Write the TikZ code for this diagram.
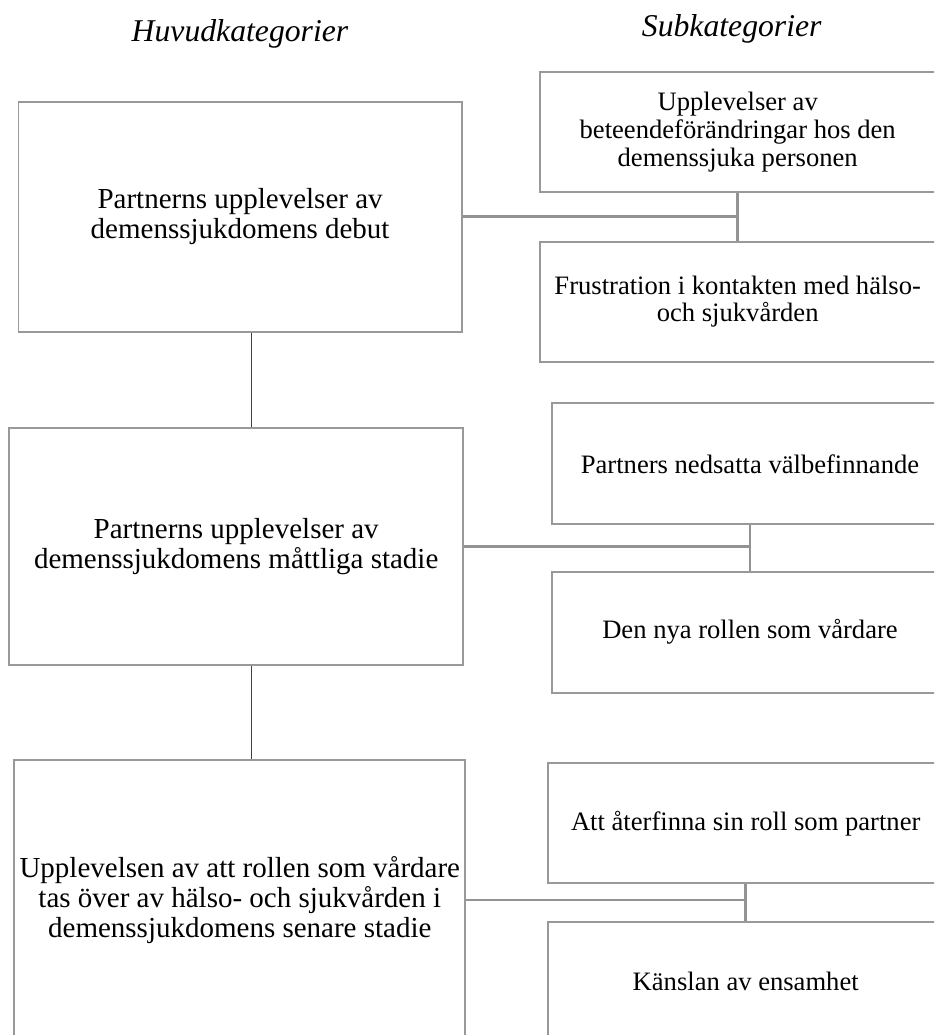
\documentclass[tikz,border=0pt]{standalone}
\usepackage{fontspec}
\setmainfont{Liberation Serif}
\definecolor{boxgray}{HTML}{999999}
\definecolor{linkgray}{HTML}{939393}
\definecolor{spinegray}{HTML}{404040}
\begin{document}
\begin{tikzpicture}[x=1pt,y=-1pt,
  box/.style={draw=boxgray, line width=1.8pt, inner sep=0pt, align=center, fill=white},
  mainbox/.style={box, font=\fontsize{29}{30}\selectfont},
  subbox/.style={box, font=\fontsize{26.6}{27.8}\selectfont},
  head/.style={font=\fontsize{31.7}{34}\selectfont\itshape, anchor=base, inner sep=0pt},
  link/.style={draw=linkgray, line width=2.6pt},
  spine/.style={draw=spinegray, line width=1.2pt}]
\useasboundingbox (0,0) rectangle (934,1035);
\clip (0,0) rectangle (934,1035);

% headers
\node[head] (h1) at (240,41.7) {Huvudkategorier};
\node[head] (h2) at (731.7,36.7) {Subkategorier};

% main categories
\node[mainbox, minimum width=443.2pt, minimum height=230pt] (m1) at (240.1,216.7)
  {Partnerns upplevelser av\\demenssjukdomens debut};
\node[mainbox, minimum width=454.3pt, minimum height=236.7pt] (m2) at (236.2,546.7)
  {Partnerns upplevelser av\\demenssjukdomens måttliga stadie};
\node[mainbox, minimum width=451pt, minimum height=280pt] (m3) at (239.8,900)
  {Upplevelsen av att rollen som vårdare\\tas över av hälso- och sjukvården i\\demenssjukdomens senare stadie};

% subcategories
\node[subbox, minimum width=395.4pt, minimum height=119.4pt] (s1) at (737.7,132)
  {Upplevelser av\\beteendeförändringar hos den\\demenssjuka personen};
\node[subbox, minimum width=395.4pt, minimum height=120pt] (s2) at (737.7,301.7)
  {Frustration i kontakten med hälso-\\och sjukvården};
\node[subbox, minimum width=396.6pt, minimum height=121pt] (s3) at (750,463.8)
  {Partners nedsatta välbefinnande};
\node[subbox, minimum width=396.6pt, minimum height=121pt] (s4) at (750,632.2)
  {Den nya rollen som vårdare};
\node[subbox, minimum width=396pt, minimum height=120pt] (s5) at (745.7,823.3)
  {Att återfinna sin roll som partner};
\node[subbox, minimum width=396pt, minimum height=120pt] (s6) at (745.7,981.8)
  {Känslan av ensamhet};

% spine between main categories
\coordinate (sx) at (251.7,0);
\draw[spine] (m1.south -| sx) -- (m2.north -| sx);
\draw[spine] (m2.south -| sx) -- (m3.north -| sx);

% links to subcategories
\draw[link] (m1.east) -- (m1.east -| s1.south);
\draw[link] (s1.south) -- (s2.north);
\draw[link] (m2.east) -- (m2.east -| s3.south);
\draw[link] (s3.south) -- (s4.north);
\draw[link] (m3.east) -- (m3.east -| s5.south);
\draw[link] (s5.south) -- (s6.north);
\end{tikzpicture}
\end{document}
